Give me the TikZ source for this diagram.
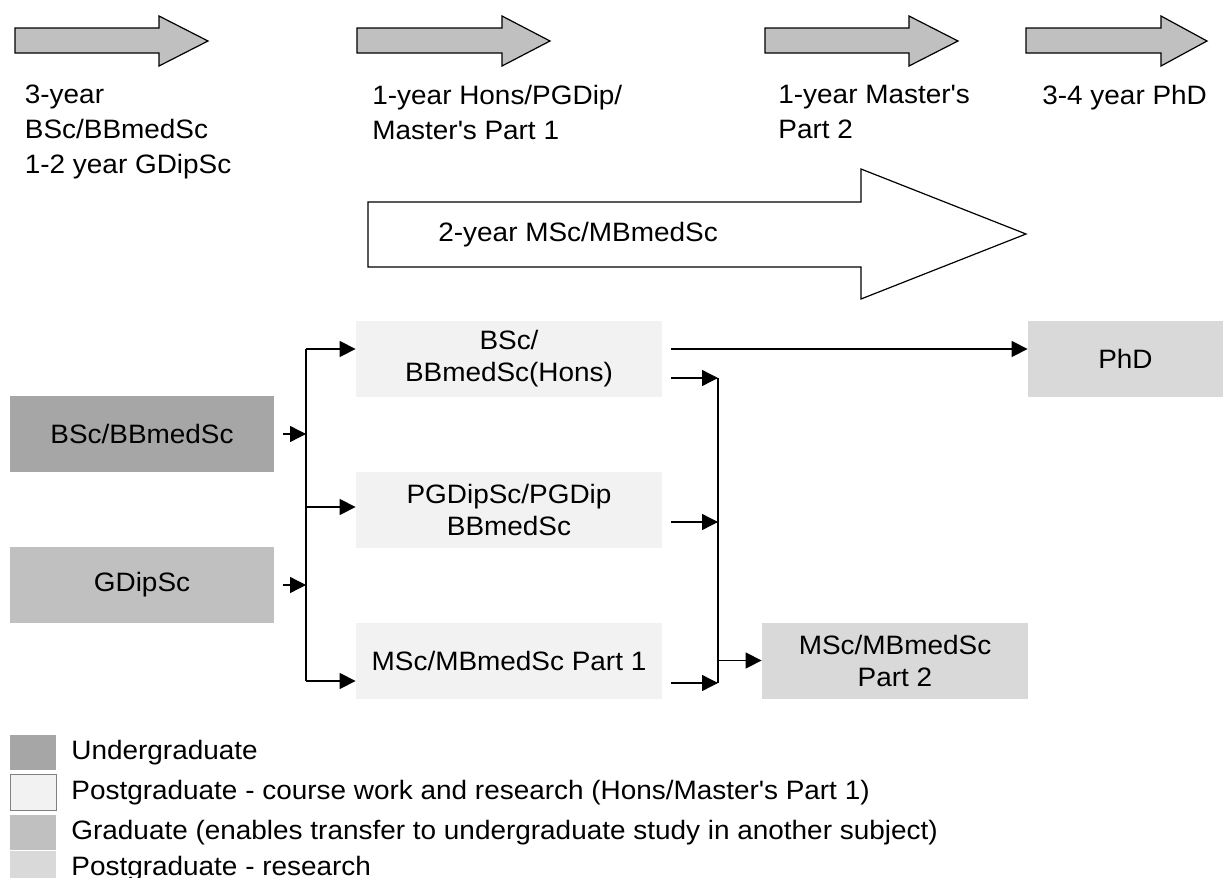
\documentclass[tikz,border=0pt]{standalone}
\usepackage{fontspec}
\setmainfont{Liberation Sans}[FakeStretch=1.05]
\usetikzlibrary{arrows.meta,calc}
\definecolor{bandcol}{HTML}{C0C0C0}
\definecolor{ugcol}{HTML}{A6A6A6}
\definecolor{pgcol}{HTML}{F2F2F2}
\definecolor{grcol}{HTML}{C0C0C0}
\definecolor{prcol}{HTML}{D9D9D9}
\begin{document}
\begin{tikzpicture}[x=0.5pt,y=-0.5pt,
    font=\fontsize{13.3pt}{16pt}\selectfont,
    box/.style={inner sep=0pt,minimum height=38pt,align=center},
    lbl/.style={anchor=north west,inner sep=0pt,align=left,font=\fontsize{13.3pt}{17.5pt}\selectfont},
    link/.style={line width=0.7pt,-{Triangle[length=8pt,width=8pt]}}]
    \useasboundingbox (0,0) rectangle (1223,878);
    \draw[fill=bandcol,line width=0.6pt] (15,28) -- (159,28) -- (159,16) -- (208,41) -- (159,66) -- (159,53) -- (15,53) -- cycle;
    \draw[fill=bandcol,line width=0.6pt] (357,28) -- (502,28) -- (502,16) -- (550,41) -- (502,66) -- (502,53) -- (357,53) -- cycle;
    \draw[fill=bandcol,line width=0.6pt] (765,28) -- (909,28) -- (909,16) -- (958,41) -- (909,66) -- (909,53) -- (765,53) -- cycle;
    \draw[fill=bandcol,line width=0.6pt] (1026,28) -- (1161,28) -- (1161,16) -- (1207,41) -- (1161,66) -- (1161,53) -- (1026,53) -- cycle;
    \node[lbl] (yr1) at (24.5,85) {3-year\\BSc/BBmedSc\\1-2 year GDipSc};
    \node[lbl] (yr2) at (372,85) {1-year Hons/PGDip/\\Master\textquotesingle s Part 1};
    \node[lbl] (yr3) at (778,85) {1-year Master\textquotesingle s\\Part 2};
    \node[lbl] (yr4) at (1042,85) {3-4 year PhD};
    \draw[fill=white,line width=0.6pt] (368,202) -- (861,202) -- (861,169) -- (1026,234) -- (861,299) -- (861,267) -- (368,267) -- cycle;
    \node[anchor=base west,inner sep=0pt] (yr5) at (438,241) {2-year MSc/MBmedSc};
    \node[box,fill=ugcol,minimum width=132pt] (ug) at (142,434) {BSc/BBmedSc};
    \node[box,fill=grcol,minimum width=132pt] (gd) at (142,585) {GDipSc};
    \node[box,fill=pgcol,minimum width=153pt] (hons) at (509,359) {BSc/\\BBmedSc(Hons)};
    \node[box,fill=pgcol,minimum width=153pt] (pgdip) at (509,510) {PGDipSc/PGDip\\BBmedSc};
    \node[box,fill=pgcol,minimum width=153pt] (mscA) at (509,660.5) {MSc/MBmedSc Part 1};
    \node[box,fill=prcol,minimum width=97.5pt] (phd) at (1125.5,359) {PhD};
    \node[box,fill=prcol,minimum width=133pt] (mscB) at (895,660.5) {MSc/MBmedSc\\Part 2};
    \coordinate (sa) at (306,349);
    \coordinate (sb) at (306,507);
    \coordinate (sc) at (306,681);
    \coordinate (ra) at (718,378);
    \coordinate (rb) at (718,522);
    \coordinate (rc) at (718,683);
    \draw[line width=0.7pt] (sa) -- (sc);
    \draw[line width=0.7pt] (ra) -- (rc);
    \draw[link] ([xshift=4.5pt]ug.east) -- (ug.east -| sa);
    \draw[link] ([xshift=4.5pt]gd.east) -- (gd.east -| sa);
    \draw[link] (sa) -- (sa -| hons.west);
    \draw[link] (sb) -- (sb -| pgdip.west);
    \draw[link] (sc) -- (sc -| mscA.west);
    \draw[link] ($(hons.east |- ra)+(4.5pt,0)$) -- (ra);
    \draw[link] ($(pgdip.east |- rb)+(4.5pt,0)$) -- (rb);
    \draw[link] ($(mscA.east |- rc)+(4.5pt,0)$) -- (rc);
    \draw[link] (mscB.west -| rc) -- (mscB.west);
    \draw[link] ([xshift=4.5pt,yshift=5pt]hons.east) -- ([yshift=5pt]phd.west);
    \fill[ugcol] (10,735) rectangle (56,770);
    \draw[fill=pgcol,draw=gray,line width=0.3pt] (10,774) rectangle (56,810);
    \fill[grcol] (10,815) rectangle (56,850);
    \fill[prcol] (10,851) rectangle (56,878);
    \node[anchor=base west,inner sep=0pt] (k1) at (71,759) {Undergraduate};
    \node[anchor=base west,inner sep=0pt] (k2) at (71,799) {Postgraduate - course work and research (Hons/Master\textquotesingle s Part 1)};
    \node[anchor=base west,inner sep=0pt] (k3) at (71,839) {Graduate (enables transfer to undergraduate study in another subject)};
    \node[anchor=base west,inner sep=0pt] (k4) at (71,875) {Postgraduate - research};
\end{tikzpicture}
\end{document}
